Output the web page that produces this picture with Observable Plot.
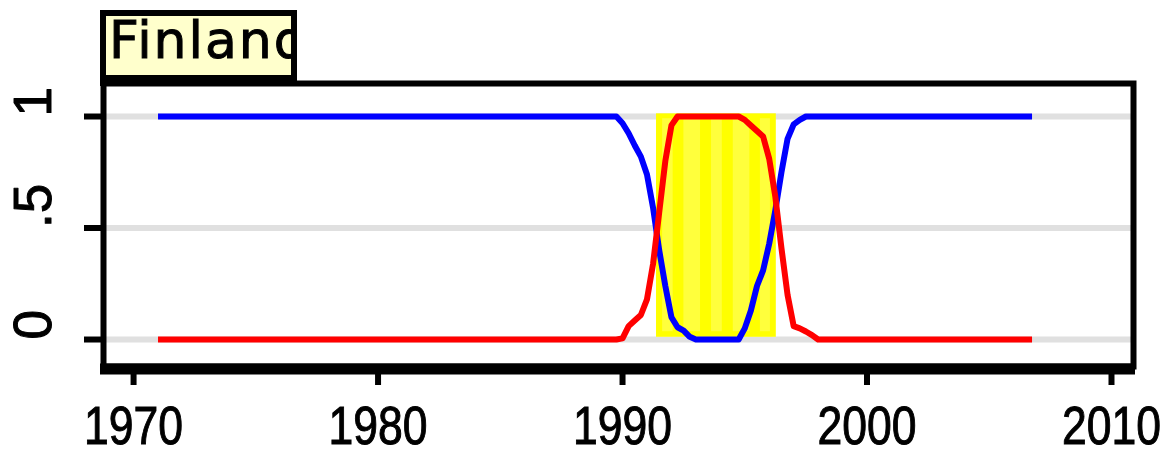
<!DOCTYPE html>
<html><head><meta charset="utf-8">
<script src="https://cdn.jsdelivr.net/npm/d3@7"></script>
<script src="https://cdn.jsdelivr.net/npm/@observablehq/plot@0.6"></script>
<style>
body{margin:0;background:#fff;}
#wrap{position:relative;width:1171px;height:453px;}
#title{position:absolute;left:100px;top:10px;width:197px;height:76px;box-sizing:border-box;border:6px solid #000;border-bottom-width:11px;background:#ffffcc;overflow:hidden;font-family:"DejaVu Sans";font-size:52px;letter-spacing:2px;line-height:1;white-space:nowrap;padding-left:3px;z-index:2;color:#000;-webkit-text-stroke:1px #000;}
#title span{position:relative;top:-2px;}
</style></head>
<body><div id="wrap"><div id="title"><span id="tt"></span></div><div id="chart"></div></div>
<script>
const country = "Finland";
const xTicks = [1970, 1980, 1990, 2000, 2010];
const yTicks = [0, 0.5, 1];
const yTickLabels = ["0", ".5", "1"];
const blueYears = [1971, 1989.75, 1990, 1990.25, 1990.5, 1990.75, 1991, 1991.25, 1991.5, 1991.75, 1992, 1992.25, 1992.5, 1992.75, 1993, 1994.75, 1995, 1995.25, 1995.5, 1995.75, 1996, 1996.25, 1996.5, 1996.75, 1997, 1997.25, 1997.5, 2006.75];
const blueValues = [1, 1, 0.97, 0.925, 0.87, 0.82, 0.74, 0.59, 0.40, 0.24, 0.10, 0.055, 0.04, 0.012, 0, 0, 0.05, 0.13, 0.24, 0.31, 0.43, 0.58, 0.75, 0.90, 0.965, 0.985, 1, 1];
const redYears = [1971, 1989.75, 1990, 1990.25, 1990.5, 1990.75, 1991, 1991.25, 1991.5, 1991.75, 1992, 1992.25, 1994.75, 1995, 1995.25, 1995.5, 1995.75, 1996, 1996.25, 1996.5, 1996.75, 1997, 1997.25, 1997.5, 1997.75, 1998, 2006.75];
const redValues = [0, 0, 0.005, 0.06, 0.085, 0.11, 0.18, 0.34, 0.57, 0.80, 0.96, 1, 1, 0.985, 0.96, 0.935, 0.91, 0.81, 0.64, 0.41, 0.20, 0.06, 0.05, 0.036, 0.02, 0, 0];
const bandStart = [1991.39];
const bandEnd = [1996.29];
const stripeStart = [1991.64, 1992.51, 1993.64, 1994.53, 1995.64];
const stripeEnd = [1992.07, 1993.19, 1994.08, 1995.21, 1996.05];

document.getElementById("tt").textContent = country;

const blue = blueYears.map((t, i) => ({t, v: blueValues[i]}));
const red = redYears.map((t, i) => ({t, v: redValues[i]}));
const band = bandStart.map((s, i) => ({s, e: bandEnd[i]}));
const stripes = stripeStart.map((s, i) => ({s, e: stripeEnd[i]}));
const yLab = yTicks.map((v, i) => ({v, label: yTickLabels[i]}));

const yMin = -0.121, yMax = 1.148;
const chart = Plot.plot({
  width: 1171, height: 453,
  marginLeft: 103, marginRight: 38, marginTop: 83, marginBottom: 87,
  x: {domain: [1968.77, 2010.9], label: null},
  y: {domain: [yMin, yMax], label: null},
  style: {background: "white", fontFamily: "Liberation Sans", fontSize: "53px", color: "black", overflow: "visible"},
  marks: [
    Plot.ruleY(yTicks, {stroke: "#e0e0e0", strokeWidth: 6}),
    Plot.rect(band, {x1: "s", x2: "e", y1: 0.01, y2: 1.012, fill: "#ffff00"}),
    Plot.rect(stripes, {x1: "s", x2: "e", y1: 0.035, y2: 0.99, fill: "#ffff3c"}),
    Plot.line(blue, {x: "t", y: "v", stroke: "#0000ff", strokeWidth: 6, strokeLinecap: "butt", strokeLinejoin: "round"}),
    Plot.line(red, {x: "t", y: "v", stroke: "#ff0000", strokeWidth: 6, strokeLinecap: "butt", strokeLinejoin: "round"}),
    Plot.frame({stroke: "black", strokeWidth: 6}),
    Plot.ruleY([yMin], {stroke: "black", strokeWidth: 11, dy: 2.5, insetLeft: -3, insetRight: -2}),
    Plot.axisX(xTicks, {label: null, tickSize: 19, strokeWidth: 6, tickPadding: 21, tickFormat: d => String(d), fontSize: 53, fill: "black"}),
    Plot.axisY(yTicks, {label: null, tickSize: 19, strokeWidth: 6, tickFormat: () => ""}),
    Plot.text(yLab, {y: "v", text: "label", frameAnchor: "left", dx: -69, rotate: -90, fontSize: 53, fill: "black", stroke: "black", strokeWidth: 1})
  ]
});
document.getElementById("chart").appendChild(chart);
chart.querySelectorAll('g[aria-label="x-axis tick label"] text').forEach(t => {
  t.setAttribute("textLength", 99);
  t.setAttribute("lengthAdjust", "spacingAndGlyphs");
  t.setAttribute("stroke", "black");
  t.setAttribute("stroke-width", "1");
});
</script>
</body></html>
